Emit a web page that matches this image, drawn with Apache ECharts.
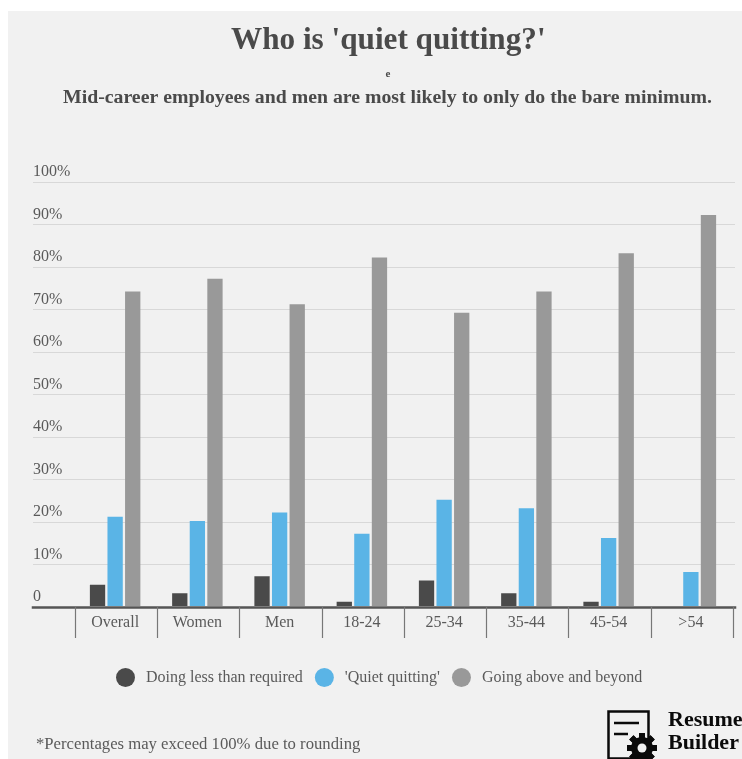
<!DOCTYPE html>
<html><head><meta charset="utf-8">
<script src="https://cdn.jsdelivr.net/npm/echarts@6/dist/echarts.min.js"></script>
<style>html,body{margin:0;padding:0;background:#fff;overflow:hidden}
#bg{position:absolute;left:8px;top:11px;right:0;bottom:0;background:#f1f1f1}
#c{position:absolute;left:0;top:0;width:742px;height:759px}</style></head>
<body><div id="bg"></div><div id="c"></div>
<script>
const categories=['Overall','Women','Men','18-24','25-34','35-44','45-54','>54'];
const lessThanRequired=[5,3,7,1,6,3,1,0];
const quietQuitting=[21,20,22,17,25,23,16,8];
const aboveAndBeyond=[74,77,71,82,69,74,83,92];
const seriesNames=['Doing less than required',"'Quiet quitting'",'Going above and beyond'];
const colors=['#4a4a4a','#5ab4e6','#999999'];
const serif='"Liberation Serif",serif';
const text='#5a5a5a';
const chart=echarts.init(document.getElementById('c'),null,{renderer:'canvas'});
const gear=[];
for(let i=0;i<8;i++){gear.push({type:'rect',x:642,y:748,rotation:i*Math.PI/4,shape:{x:-3,y:-15,width:6,height:30},style:{fill:'#0a0a0a'}});}
const barCfg=(name,data,color)=>({name,type:'bar',xAxisIndex:1,yAxisIndex:1,data,barWidth:15.3,barGap:'15%',itemStyle:{color}});
chart.setOption({
 animation:false,
 textStyle:{fontFamily:serif},
 title:[
  {text:"Who is 'quiet quitting?'",left:231,top:25,padding:0,textStyle:{fontFamily:serif,fontSize:31.2,fontWeight:'bold',color:'#4a4a4a'}},
  {text:'e',left:385.5,top:69,padding:0,textStyle:{fontFamily:serif,fontSize:11,fontWeight:'bold',color:'#4a4a4a'}},
  {text:'Mid-career employees and men are most likely to only do the bare minimum.',left:63,top:88,padding:0,textStyle:{fontFamily:serif,fontSize:19.8,fontWeight:'bold',color:'#4a4a4a'}},
  {text:'*Percentages may exceed 100% due to rounding',left:36,top:736,padding:0,textStyle:{fontFamily:serif,fontSize:16.7,fontWeight:'normal',color:text}}
 ],
 legend:{left:111,top:663,itemWidth:19,itemHeight:19,itemGap:12,icon:'circle',data:seriesNames,textStyle:{fontFamily:serif,fontSize:16,color:text,padding:[0,0,0,6]}},
 grid:[
  {left:33,top:182,width:702,height:425},
  {left:74,top:181,width:658,height:425},
  {left:75,top:182,width:658,height:425}
 ],
 xAxis:[
  {gridIndex:0,type:'value',min:0,max:1,axisLine:{show:true,onZero:false,lineStyle:{color:'#555',width:2.5,cap:'square'}},axisTick:{show:false},axisLabel:{show:false},splitLine:{show:false}},
  {gridIndex:1,type:'category',data:categories,axisLine:{show:false},axisTick:{show:false},axisLabel:{interval:0,margin:9,fontFamily:serif,fontSize:16,color:text},splitLine:{show:false}},
  {gridIndex:2,type:'category',data:categories,axisLine:{show:false},axisTick:{show:true,length:31,lineStyle:{color:'#777',width:1.2}},axisLabel:{show:false},splitLine:{show:false}}
 ],
 yAxis:[
  {gridIndex:0,type:'value',min:0,max:100,interval:10,axisLine:{show:false},axisTick:{show:false},
   axisLabel:{inside:true,margin:0,verticalAlign:'bottom',padding:[0,0,2,0],fontFamily:serif,fontSize:16,color:text,formatter:v=>v===0?'0':v+'%'},
   splitLine:{show:true,lineStyle:{color:'#d8d8d8',width:1}}},
  {gridIndex:1,type:'value',min:0,max:100,interval:10,show:false},
  {gridIndex:2,type:'value',min:0,max:100,interval:10,show:false}
 ],
 series:[
  barCfg(seriesNames[0],lessThanRequired,colors[0]),
  barCfg(seriesNames[1],quietQuitting,colors[1]),
  barCfg(seriesNames[2],aboveAndBeyond,colors[2])
 ],
 graphic:[
  {type:'rect',shape:{x:608.5,y:711.5,width:40,height:47},style:{fill:'none',stroke:'#0a0a0a',lineWidth:2.5}},
  {type:'line',shape:{x1:614,y1:723,x2:639,y2:723},style:{stroke:'#0a0a0a',lineWidth:2.5}},
  {type:'line',shape:{x1:614,y1:734,x2:628,y2:734},style:{stroke:'#0a0a0a',lineWidth:2.5}},
  {type:'circle',shape:{cx:642,cy:748,r:11},style:{fill:'#0a0a0a'}},
  ...gear,
  {type:'circle',shape:{cx:642,cy:748,r:4.5},style:{fill:'#f1f1f1'}},
  {type:'text',x:668,y:709,style:{text:'Resume',fontFamily:serif,fontSize:22,fontWeight:'bold',fill:'#0a0a0a'}},
  {type:'text',x:668,y:732,style:{text:'Builder',fontFamily:serif,fontSize:22,fontWeight:'bold',fill:'#0a0a0a'}}
 ]
});
</script></body></html>
